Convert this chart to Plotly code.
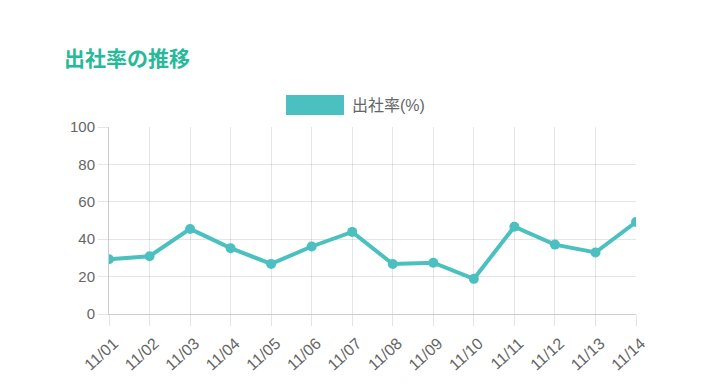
import plotly.graph_objects as go

dates = ["11/01", "11/02", "11/03", "11/04", "11/05", "11/06", "11/07",
         "11/08", "11/09", "11/10", "11/11", "11/12", "11/13", "11/14"]
rates = [29.3, 30.9, 45.5, 35.2, 26.8, 36.1, 43.9,
         26.7, 27.4, 18.8, 46.7, 37.1, 32.9, 49.2]
y_ticks = [0, 20, 40, 60, 80, 100]
series_name = "出社率(%)"
title_text = "出社率の推移"

W, H = 720, 390
OFF = 8  # page body margin offset
# target plot area in screen pixels
X0, X1, Y0, Y1 = 109, 636, 127, 314
L, T = X0 - OFF, Y0 - OFF
R, B = W - (X1 - OFF), H - (Y1 - OFF)
pw, ph = X1 - X0, Y1 - Y0


def px_x(x):
    return (x - X0) / pw


def px_y(y):
    return (Y1 - y) / ph


teal = "rgb(75,192,192)"
grid = "rgba(0,0,0,0.1)"
font = "Liberation Sans, Noto Sans CJK JP, sans-serif"

fig = go.Figure()
fig.add_trace(go.Scatter(
    x=list(range(len(dates))), y=rates, mode="lines+markers", name=series_name,
    line=dict(color=teal, width=4),
    marker=dict(color=teal, size=10),
    showlegend=False, hoverinfo="skip",
))

fig.update_layout(
    width=W, height=H,
    margin=dict(l=L, r=R, t=T, b=B),
    paper_bgcolor="white", plot_bgcolor="white",
    font=dict(family=font, color="#666", size=15),
    title=dict(text="<b>" + title_text + "</b>", x=(64 - OFF) / W, xanchor="left",
               y=1 - (59 - OFF) / H, yanchor="middle",
               font=dict(family="Noto Sans CJK JP", size=21, color="#26B99A")),
    xaxis=dict(
        range=[0, len(dates) - 1], tickmode="array",
        tickvals=list(range(len(dates))), ticktext=dates,
        showgrid=True, gridcolor=grid, gridwidth=1,
        ticks="outside", ticklen=11, tickcolor=grid, tickwidth=1,
        tickangle=-42, tickfont=dict(size=16, color="#666"),
        ticklabelstandoff=2, ticklabelshift=5,
        showline=True, linecolor="rgba(0,0,0,0.2)", linewidth=1,
        zeroline=False, fixedrange=True,
    ),
    yaxis=dict(
        range=[0, 100], tickmode="array", tickvals=y_ticks,
        showgrid=True, gridcolor=grid, gridwidth=1,
        ticks="outside", ticklen=10, tickcolor=grid, tickwidth=1,
        tickfont=dict(size=15, color="#666"),
        showline=True, linecolor="rgba(0,0,0,0.2)", linewidth=1,
        zeroline=False, fixedrange=True,
    ),
    shapes=[dict(type="rect", xref="paper", yref="paper",
                 x0=px_x(286), x1=px_x(344), y0=px_y(115), y1=px_y(95),
                 fillcolor=teal, line=dict(width=0))],
    annotations=[dict(text=series_name, xref="paper", yref="paper",
                      x=px_x(350), y=px_y(105), xanchor="left", yanchor="middle",
                      showarrow=False, font=dict(size=16, color="#666"))],
)

fig.write_html("out.html")
